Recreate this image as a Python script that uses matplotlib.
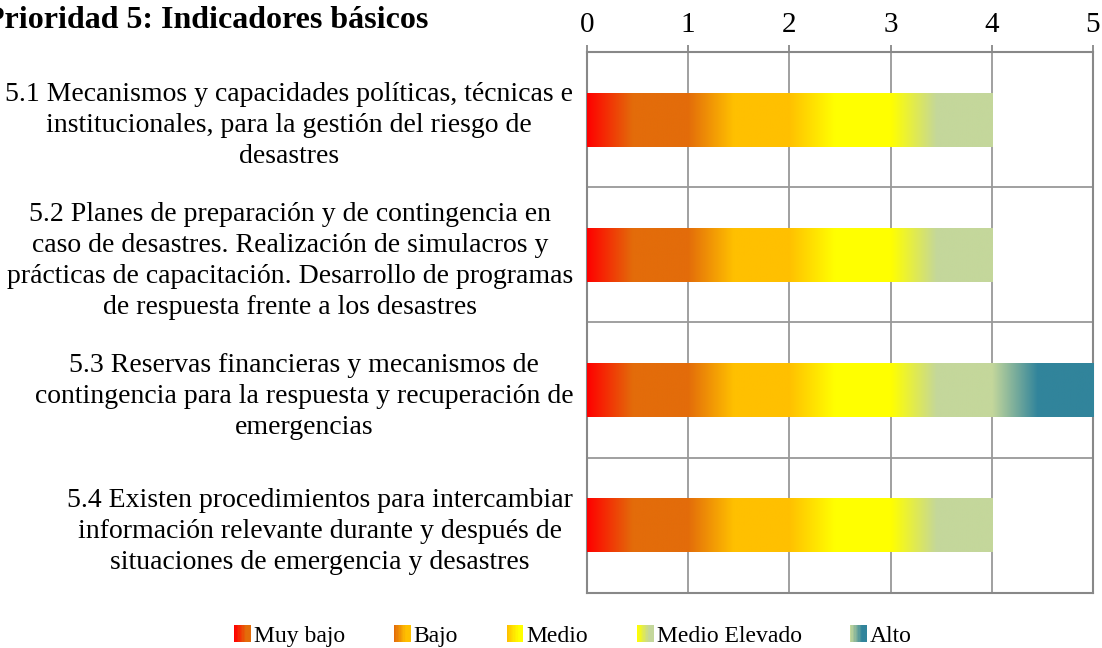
import numpy as np
import matplotlib
matplotlib.use("Agg")
import matplotlib.pyplot as plt
from matplotlib.colors import LinearSegmentedColormap
from matplotlib.legend_handler import HandlerBase
from matplotlib.patches import Rectangle

plt.rcParams['font.family'] = ['Liberation Serif', 'DejaVu Serif']

categories = [
    "5.1 Mecanismos y capacidades políticas, técnicas e\ninstitucionales, para la gestión del riesgo de\ndesastres",
    "5.2 Planes de preparación y de contingencia en\ncaso de desastres. Realización de simulacros y\nprácticas de capacitación. Desarrollo de programas\nde respuesta frente a los desastres",
    "5.3 Reservas financieras y mecanismos de\ncontingencia para la respuesta y recuperación de\nemergencias",
    "5.4 Existen procedimientos para intercambiar\ninformación relevante durante y después de\nsituaciones de emergencia y desastres",
]
levels = ["Muy bajo", "Bajo", "Medio", "Medio Elevado", "Alto"]
muy_bajo = [1, 1, 1, 1]
bajo = [1, 1, 1, 1]
medio = [1, 1, 1, 1]
medio_elevado = [1, 1, 1, 1]
alto = [0, 0, 1, 0]
series = [muy_bajo, bajo, medio, medio_elevado, alto]

# each level fades from the previous colour into its own
grad_colors = [
    ("#ff0000", "#e36c0a"),
    ("#e36c0a", "#ffc000"),
    ("#ffc000", "#ffff00"),
    ("#ffff00", "#c4d79b"),
    ("#c4d79b", "#31849b"),
]
cmaps = [LinearSegmentedColormap.from_list(n, [(0, a), (0.45, b), (1, b)])
         for n, (a, b) in zip(levels, grad_colors)]

fig = plt.figure(figsize=(11.02, 6.48), dpi=100)
ax = fig.add_axes([0.5327, 0.0849, 0.4591, 0.8349])

y = np.arange(len(categories))
left = np.zeros(len(categories))
grad = np.linspace(0, 1, 256).reshape(1, -1)
for vals, cmap in zip(series, cmaps):
    bars = ax.barh(y, vals, left=left, height=0.4, color='none', linewidth=0, zorder=3)
    for b in bars:
        if b.get_width() <= 0:
            continue
        x0, y0 = b.get_x(), b.get_y()
        im = ax.imshow(grad, cmap=cmap, aspect='auto', zorder=3,
                       extent=(x0, x0 + b.get_width(), y0, y0 + b.get_height()))
        im.set_clip_path(b)
    left += np.array(vals)

ax.set_xlim(0, 5)
ax.set_ylim(len(categories) - 0.5, -0.5)
ax.xaxis.tick_top()
ax.set_xticks(range(6))
ax.set_yticks(y)
ax.set_yticklabels(categories, multialignment='center', linespacing=1.32)
ax.set_yticks(np.arange(0.5, len(categories) - 1, 1), minor=True)
ax.tick_params(axis='y', which='major', length=0, pad=10, labelsize=20)
ax.tick_params(axis='y', which='minor', length=0)
ax.tick_params(axis='x', length=5, color='#888888', width=1.3, pad=5, labelsize=21)
ax.grid(axis='x', color='#999999', linewidth=1.3, zorder=0)
ax.grid(axis='y', which='minor', color='#999999', linewidth=1.3, zorder=0)
for s in ax.spines.values():
    s.set_color('#888888')
    s.set_linewidth(1.5)


class GradientHandler(HandlerBase):
    def __init__(self, cmap):
        super().__init__()
        self.cmap = cmap

    def create_artists(self, legend, orig_handle, xdescent, ydescent,
                       width, height, fontsize, trans):
        n = 12
        arts = []
        for i in range(n):
            c = self.cmap(i / (n - 1) * 0.6)
            r = Rectangle((-xdescent + width * i / n, -ydescent), width / n + 0.3, height,
                          facecolor=c, edgecolor='none', transform=trans)
            arts.append(r)
        return arts


handles = [Rectangle((0, 0), 1, 1) for _ in levels]
fig.legend(handles, levels, loc='lower center', bbox_to_anchor=(0.52, -0.031), ncol=5,
           frameon=False, fontsize=17, handlelength=0.7, handleheight=0.7,
           handletextpad=0.15, columnspacing=2.05,
           handler_map={h: GradientHandler(c) for h, c in zip(handles, cmaps)})

fig.text(-0.014, 0.968, "Prioridad 5: Indicadores básicos", fontsize=23,
         fontweight='bold', ha='left', va='center')

fig.savefig("out.png", dpi=100)
